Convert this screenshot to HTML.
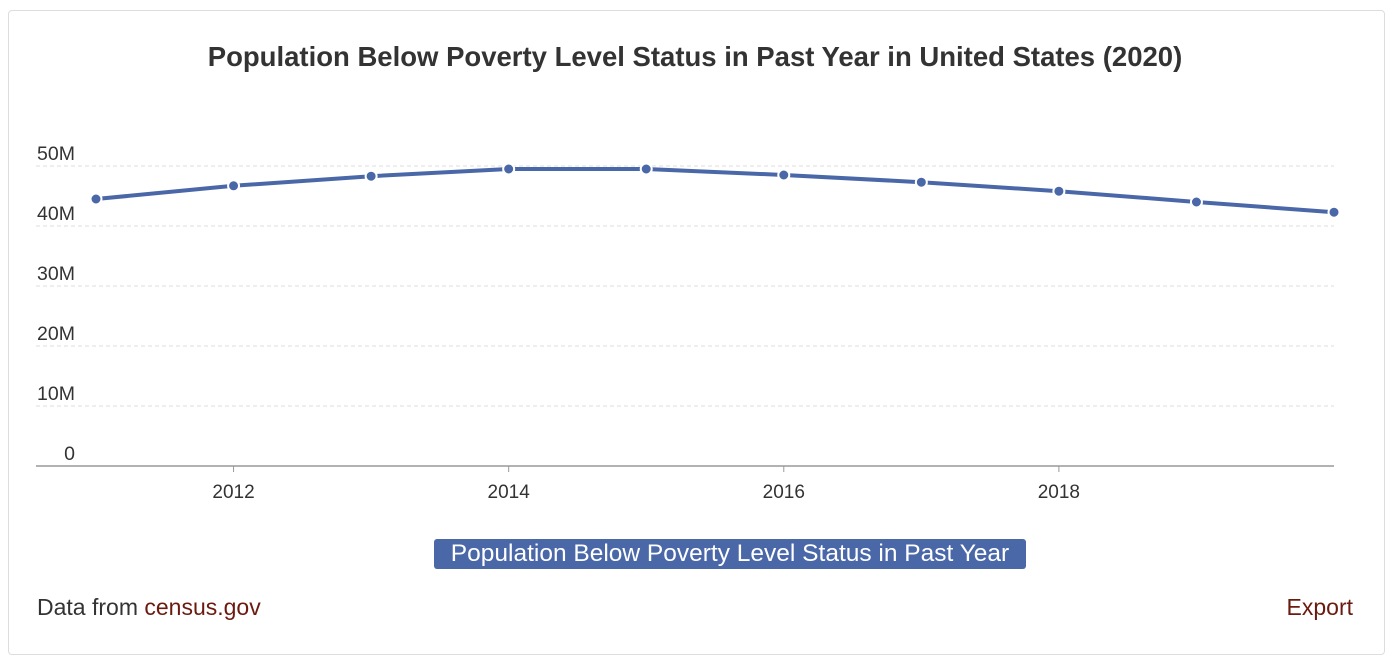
<!DOCTYPE html>
<html><head><meta charset="utf-8">
<style>
body{margin:0;width:1396px;height:668px;background:#fff;font-family:"Liberation Sans",sans-serif;position:relative;overflow:hidden}
.card{position:absolute;left:8px;top:10px;width:1377px;height:645px;border:1px solid #ddd;border-radius:4px;box-sizing:border-box}
.title{position:absolute;left:0;width:1390px;top:41px;text-align:center;font-size:27.5px;font-weight:bold;color:#333}
.legend{position:absolute;left:434px;top:539px;width:592px;height:30px;background:#4a67a8;border-radius:3px;color:#fff;font-size:24.5px;line-height:30px;text-align:center;white-space:nowrap}
.foot{position:absolute;top:594px;font-size:23px;color:#333;white-space:nowrap}
a{color:#6b1a0f;text-decoration:none}
</style></head><body>
<div class="card"></div>
<div class="title">Population Below Poverty Level Status in Past Year in United States (2020)</div>
<svg id="chart" width="1396" height="668" style="position:absolute;left:0;top:0"></svg>
<div class="legend">Population Below Poverty Level Status in Past Year</div>
<div class="foot" style="left:37px">Data from <a>census.gov</a></div>
<div class="foot" style="right:43px"><a>Export</a></div>
<script>
const years=[2011,2012,2013,2014,2015,2016,2017,2018,2019,2020];
const values=[44.5,46.7,48.3,49.5,49.5,48.5,47.3,45.8,44.0,42.3];
const yTicks=[0,10,20,30,40,50];
const yLabels=["0","10M","20M","30M","40M","50M"];
const xTicks=[2012,2014,2016,2018];
const svg=document.getElementById('chart');
const NS='http://www.w3.org/2000/svg';
const x=v=>96+(v-2011)*(1334-96)/9;
const y=v=>466-v*6;
function mk(t,a){const e=document.createElementNS(NS,t);for(const k in a)e.setAttribute(k,a[k]);svg.appendChild(e);return e;}
yTicks.forEach((t,i)=>{
 if(t>0){const g=mk('line',{x1:36,x2:1334,y1:y(t),y2:y(t),stroke:'#ddd','stroke-dasharray':'4,3'});
 
 }
 const l=mk('text',{x:i==0?75:37,y:y(t)-6,'font-size':19.5,fill:'#333','text-anchor':i==0?'end':'start'});
 l.textContent=yLabels[i];
 
 
});
const ax=mk('line',{x1:36,x2:1334,y1:466,y2:466,stroke:'#999','stroke-width':1.5});


xTicks.forEach(t=>{
 mk('line',{x1:x(t),x2:x(t),y1:466,y2:472,stroke:'#999'});
 const l=mk('text',{x:x(t),y:498,'font-size':19,fill:'#333','text-anchor':'middle'});
 l.textContent=t;
 
 
});
const p=mk('polyline',{points:years.map((yr,i)=>x(yr)+','+y(values[i])).join(' '),fill:'none',stroke:'#4a67a8','stroke-width':4});


years.forEach((yr,i)=>{
 const c=mk('circle',{cx:x(yr),cy:y(values[i]),r:5.5,fill:'#4a67a8',stroke:'#fff','stroke-width':2});
 
 
});
</script>
</body></html>
